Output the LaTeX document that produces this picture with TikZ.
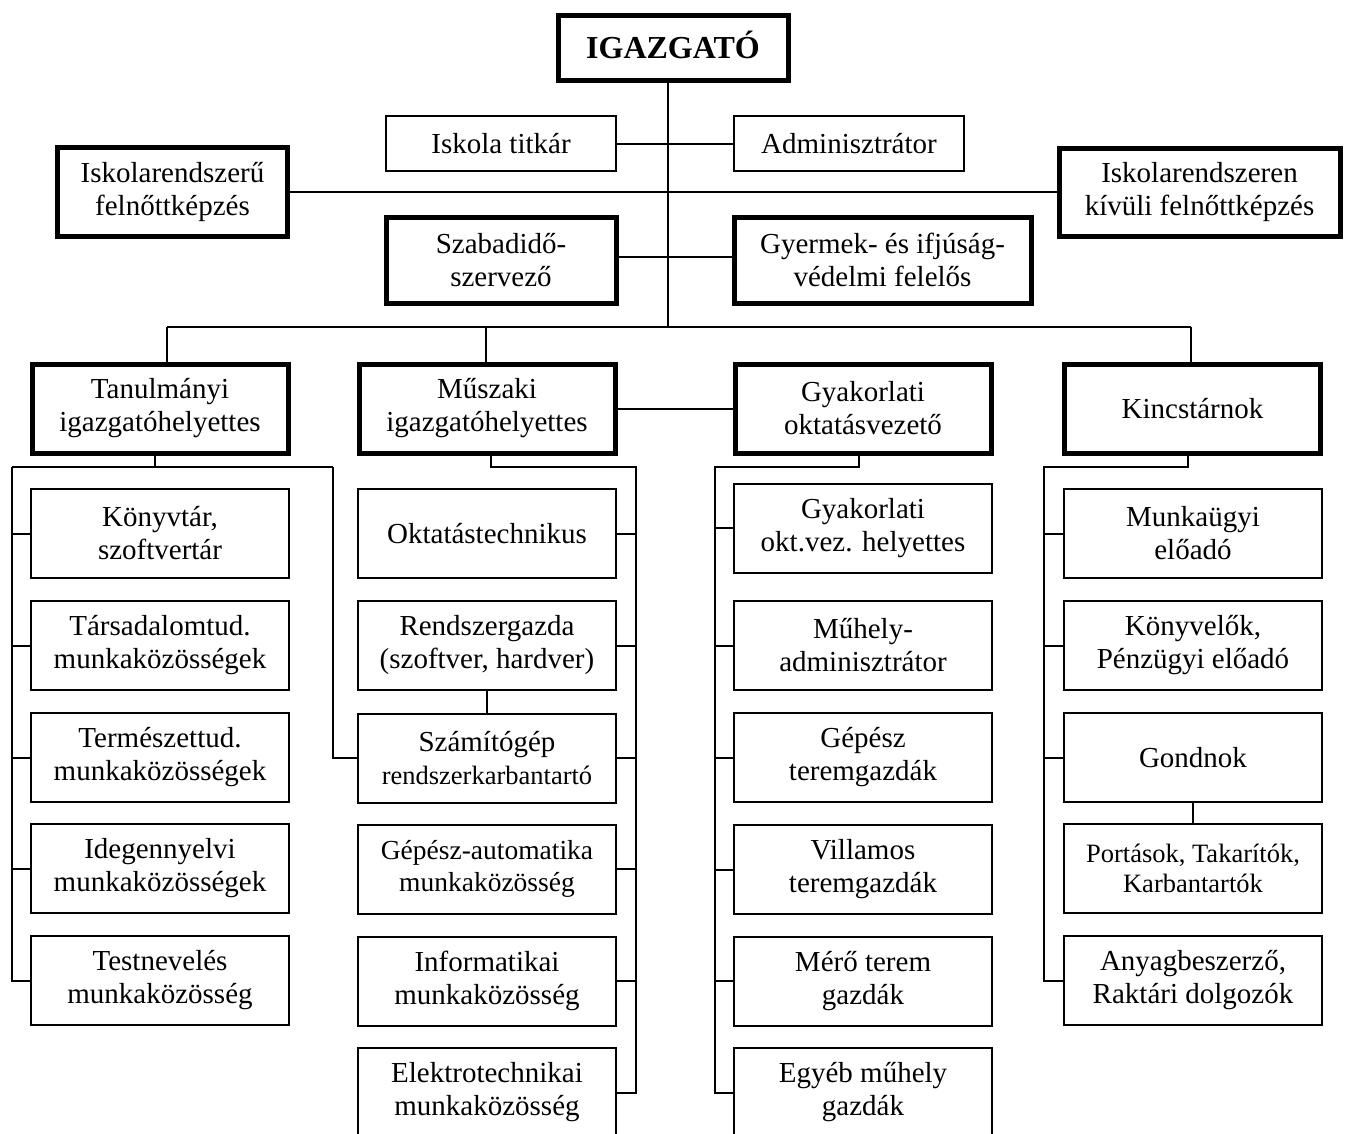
\documentclass[tikz,border=0pt]{standalone}
\usepackage{fontspec}
\setmainfont{Liberation Serif}
\begin{document}
\begin{tikzpicture}[x=1pt,y=-1pt,
  every node/.style={inner sep=0pt, outer sep=0pt, align=center, font=\fontsize{29}{33}\selectfont},
  bx/.style={draw, line width=2pt, rectangle},
  tbx/.style={draw, line width=5pt, rectangle},
  sz/.style 2 args={minimum width=#1pt, minimum height=#2pt},
  conn/.style={line width=2pt}]
\fill[white] (0,0) rectangle (1346,1133);
\useasboundingbox (0,0) rectangle (1346,1133);

% top level
\node[tbx, sz={230}{65}, font=\bfseries\fontsize{32}{36}\selectfont, text height=22pt, text depth=0pt] (igaz) at (673,47.5) {IGAZGATÓ};
\node[bx, sz={230}{55}] (titkar) at (501,143.5) {Iskola titkár};
\node[bx, sz={230}{55}] (admin) at (849,143.5) {Adminisztrátor};
\node[tbx, sz={230}{89}] (iskf) at (172.5,192) {Iskolarendszerű\\felnőttképzés};
\node[tbx, sz={281}{88}] (iskk) at (1199.5,192) {Iskolarendszeren\\kívüli felnőttképzés};
\node[tbx, sz={230}{86}] (szab) at (501,260) {Szabadidő-\\szervező};
\node[tbx, sz={297}{86}] (gyer) at (882.5,260) {Gyermek- és ifjúság-\\védelmi felelős};

% level 2
\node[tbx, sz={256}{89}] (tan) at (160,408.5) {Tanulmányi\\igazgatóhelyettes};
\node[tbx, sz={256}{89}] (mus) at (487,408.5) {Műszaki\\igazgatóhelyettes};
\node[tbx, sz={256}{89}] (gyak) at (863,408.5) {Gyakorlati\\oktatásvezető};
\node[tbx, sz={256}{89}] (kinc) at (1192.5,408.5) {Kincstárnok};

% column A
\node[bx, sz={258}{89}] (cA1) at (160,533.5) {Könyvtár,\\szoftvertár};
\node[bx, sz={258}{89}] (cA2) at (160,645.5) {Társadalomtud.\\munkaközösségek};
\node[bx, sz={258}{89}] (cA3) at (160,757.5) {Természettud.\\munkaközösségek};
\node[bx, sz={258}{89}] (cA4) at (160,868.5) {Idegennyelvi\\munkaközösségek};
\node[bx, sz={258}{89}] (cA5) at (160,980.5) {Testnevelés\\munkaközösség};

% column B
\node[bx, sz={258}{89}] (cB1) at (487,533.5) {Oktatástechnikus};
\node[bx, sz={258}{89}] (cB2) at (487,645.5) {Rendszergazda\\(szoftver, hardver)};
\node[bx, sz={258}{89}] (cB3) at (487,758) {Számítógép\\{\fontsize{26.5}{31}\selectfont rendszerkarbantartó}};
\node[bx, sz={258}{89}, font=\fontsize{27.5}{32}\selectfont] (cB4) at (487,869) {Gépész-automatika\\munkaközösség};
\node[bx, sz={258}{89}] (cB5) at (487,981) {Informatikai\\munkaközösség};
\node[bx, sz={258}{89}] (cB6) at (487,1092.5) {Elektrotechnikai\\munkaközösség};

% column C
\node[bx, sz={258}{89}] (cC1) at (863,528) {Gyakorlati\\okt.vez. helyettes};
\node[bx, sz={258}{89}] (cC2) at (863,645.5) {Műhely-\\adminisztrátor};
\node[bx, sz={258}{89}] (cC3) at (863,757.5) {Gépész\\teremgazdák};
\node[bx, sz={258}{89}] (cC4) at (863,869.5) {Villamos\\teremgazdák};
\node[bx, sz={258}{89}] (cC5) at (863,981) {Mérő terem\\gazdák};
\node[bx, sz={258}{89}] (cC6) at (863,1092.5) {Egyéb műhely\\gazdák};

% column D
\node[bx, sz={258}{89}] (cD1) at (1193,533.5) {Munkaügyi\\előadó};
\node[bx, sz={258}{89}] (cD2) at (1193,645.5) {Könyvelők,\\Pénzügyi előadó};
\node[bx, sz={258}{89}] (cD3) at (1193,757.5) {Gondnok};
\node[bx, sz={258}{89}, font=\fontsize{26.5}{30}\selectfont] (cD4) at (1193,868.5) {Portások, Takarítók,\\Karbantartók};
\node[bx, sz={258}{89}] (cD5) at (1193,980.5) {Anyagbeszerző,\\Raktári dolgozók};

% coordinates
\coordinate (bus) at (668,327);
\coordinate (busL) at (167,327);
\coordinate (busM) at (486,327);
\coordinate (busR) at (1191,327);
\coordinate (tL) at (12,467);
\coordinate (tR) at (333,467);
\coordinate (tD) at (155,467);
\coordinate (mD) at (491,467);
\coordinate (mR) at (636,467);
\coordinate (gD) at (859,467);
\coordinate (gL) at (715,467);
\coordinate (kD) at (1188,467);
\coordinate (kL) at (1044,467);

% top connectors
\draw[conn] (igaz.south -| bus) -- (bus);
\draw[conn] (busL) -- (busR);
\draw[conn] (busL) -- (busL |- tan.north);
\draw[conn] (busM) -- (busM |- mus.north);
\draw[conn] (busR) -- (busR |- kinc.north);
\draw[conn] (titkar.east) -- (titkar.east -| bus);
\draw[conn] (admin.west) -- (admin.west -| bus);
\draw[conn] (iskf.east) -- (iskk.west);
\draw[conn] ([yshift=3pt]szab.east) -- ([yshift=3pt]szab.east -| bus);
\draw[conn] ([yshift=3pt]gyer.west) -- ([yshift=3pt]gyer.west -| bus);
\draw[conn] (mus.east) -- (gyak.west);

% Tanulmanyi subtree
\draw[conn] (tD |- tan.south) -- (tD);
\draw[conn] (tL) -- (tR);
\draw[conn] (tL) |- (cA5.west);
\foreach \n in {cA1,cA2,cA3,cA4} \draw[conn] (\n.west -| tL) -- (\n.west);
\draw[conn] (tR) |- (cB3.west);

% Muszaki subtree
\draw[conn] (mD |- mus.south) -- (mD) -- (mR) |- (cB6.east);
\foreach \n in {cB1,cB2,cB3,cB4,cB5} \draw[conn] (\n.east) -- (\n.east -| mR);
\draw[conn] (cB2.south) -- (cB3.north);

% Gyakorlati subtree
\draw[conn] (gD |- gyak.south) -- (gD) -- (gL) |- (cC6.west);
\foreach \n in {cC1,cC2,cC3,cC4,cC5} \draw[conn] (\n.west -| gL) -- (\n.west);

% Kincstarnok subtree
\draw[conn] (kD |- kinc.south) -- (kD) -- (kL) |- (cD5.west);
\foreach \n in {cD1,cD2,cD3} \draw[conn] (\n.west -| kL) -- (\n.west);
\draw[conn] (cD3.south) -- (cD4.north);
\end{tikzpicture}
\end{document}
